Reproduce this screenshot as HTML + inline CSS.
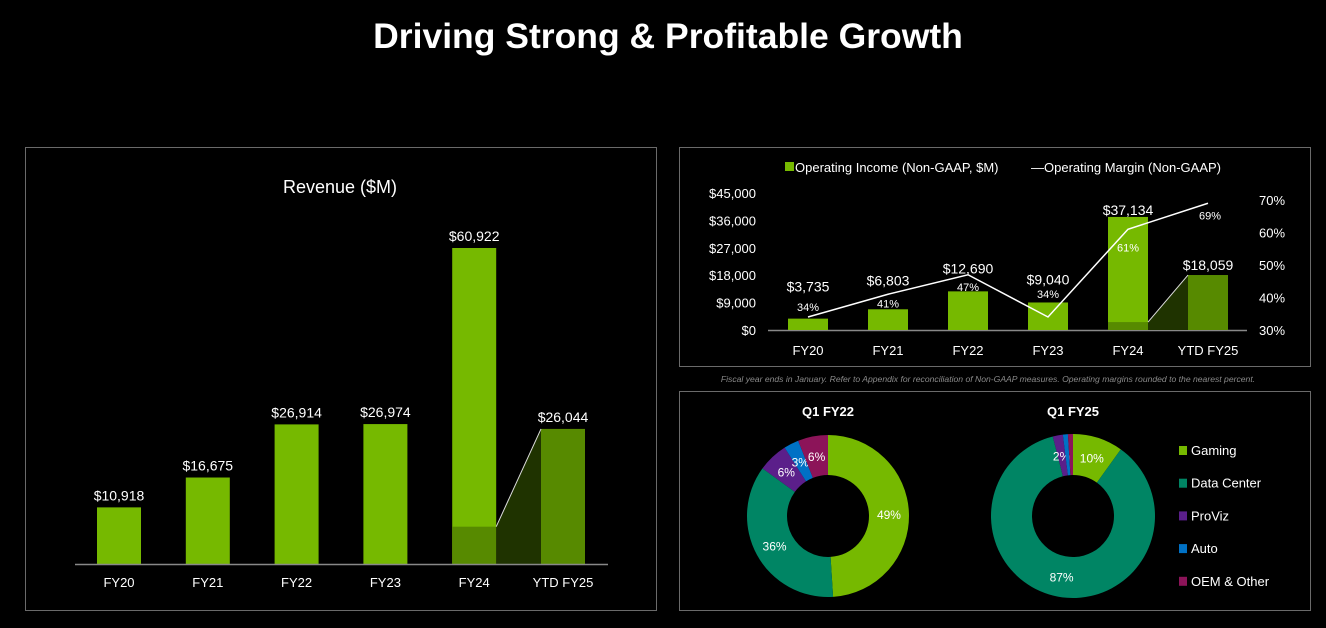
<!DOCTYPE html>
<html><head><meta charset="utf-8">
<style>
html,body{margin:0;padding:0;background:#000;width:1326px;height:628px;overflow:hidden;font-family:"Liberation Sans",sans-serif;}
svg{display:block}
</style></head>
<body>
<svg id="svg" width="1326" height="628" viewBox="0 0 1326 628">
<text x="668" y="48" text-anchor="middle" fill="#fff" font-size="35.5" font-weight="bold">Driving Strong &amp; Profitable Growth</text>
<rect x="25.5" y="147.5" width="631" height="463" fill="none" stroke="#6a6a6a"/>
<rect x="679.5" y="147.5" width="631" height="219" fill="none" stroke="#6a6a6a"/>
<rect x="679.5" y="391.5" width="631" height="219" fill="none" stroke="#6a6a6a"/>
<text x="340" y="193" text-anchor="middle" fill="#fff" font-size="18">Revenue ($M)</text>
<text x="988" y="382" text-anchor="middle" fill="#8a8a8a" font-size="8.6" font-style="italic">Fiscal year ends in January. Refer to Appendix for reconciliation of Non-GAAP measures. Operating margins rounded to the nearest percent.</text>
<g id="rev"></g><g id="op"></g><g id="pies"></g>
</svg>
<script>
const revCats=["FY20","FY21","FY22","FY23","FY24","YTD FY25"];
const revVals=[10918,16675,26914,26974,60922,26044];
const revQ1FY24=7192;
const opCats=["FY20","FY21","FY22","FY23","FY24","YTD FY25"];
const opVals=[3735,6803,12690,9040,37134,18059];
const opMargins=[34,41,47,34,61,69];
const opQ1FY24=2600;
const opTicks=[0,9000,18000,27000,36000,45000];
const marginTicks=[30,40,50,60,70];
const segNames=["Gaming","Data Center","ProViz","Auto","OEM & Other"];
const segColors=["#76b900","#008564","#5b1f8a","#0071c5","#8c1459"];
const q1fy22=[49,36,6,3,6];
const q1fy25=[10,87,2,1,1];
const q1fy22Labels=["49%","36%","6%","3%","6%"];
const q1fy25Labels=["10%","87%","2%","",""];
// label offsets (px) relative to bar top / margin point
const opValueDy=[-32,-29,-23,-23,-7,-10];
const opMarginDy=[-10,9,12,-23,18,12];

const NS="http://www.w3.org/2000/svg";
function mk(parent,tag,attrs,text){const e=document.createElementNS(NS,tag);for(const k in attrs)e.setAttribute(k,attrs[k]);if(text!==undefined)e.textContent=text;parent.appendChild(e);return e;}
const fmt=v=>"$"+v.toLocaleString("en-US");

// Revenue chart
const rev=document.getElementById("rev");
const rBase=564, rScale=316/60922, rx=i=>119+i*88.8, rW=44;
const ry=v=>rBase-v*rScale;
revVals.forEach((v,i)=>{
  const last=i===revVals.length-1;
  const b=mk(rev,"rect",{x:rx(i)-rW/2,y:ry(v),width:rW,height:rBase-ry(v),fill:last?"#578a00":"#76b900"});
  
  
  const t=mk(rev,"text",{x:rx(i),y:ry(v)-7,"text-anchor":"middle",fill:"#fff","font-size":"14"},fmt(v));
  
  
  const c=mk(rev,"text",{x:rx(i),y:rBase+23,"text-anchor":"middle",fill:"#fff","font-size":"13"},revCats[i]);
  
  
});
{
  const i=4,j=5;
  const q=mk(rev,"rect",{x:rx(i)-rW/2,y:ry(revQ1FY24),width:rW,height:rBase-ry(revQ1FY24),fill:"#578a00"});
  
  
  const p=mk(rev,"polygon",{points:`${rx(i)+rW/2},${ry(revQ1FY24)} ${rx(j)-rW/2},${ry(revVals[j])} ${rx(j)-rW/2},${rBase} ${rx(i)+rW/2},${rBase}`,fill:"#1f3300"});
  
  
  const l=mk(rev,"line",{x1:rx(i)+rW/2,y1:ry(revQ1FY24),x2:rx(j)-rW/2,y2:ry(revVals[j]),stroke:"#ddd","stroke-width":"1"});
  
  
}
const rax=mk(rev,"line",{x1:75,y1:rBase+0.5,x2:608,y2:rBase+0.5,stroke:"#888","stroke-width":"1.5"});



// Operating chart
const op=document.getElementById("op");
const oBase=330, oy=v=>oBase-v*137/45000, my=m=>oBase-(m-30)*3.25, ox=i=>808+i*80, oW=40;
opTicks.forEach(t=>{const e=mk(op,"text",{x:756,y:oy(t)+5,"text-anchor":"end",fill:"#fff","font-size":"13"},fmt(t));
  
  });
marginTicks.forEach(t=>{const e=mk(op,"text",{x:1259,y:my(t)+5,fill:"#fff","font-size":"13"},t+"%");
  
  });
const oax=mk(op,"line",{x1:768,y1:oBase+0.5,x2:1247,y2:oBase+0.5,stroke:"#888","stroke-width":"1.5"});


{
  const i=4,j=5;
  const p=mk(op,"polygon",{points:`${ox(i)+oW/2},${oy(opQ1FY24)} ${ox(j)-oW/2},${oy(opVals[j])} ${ox(j)-oW/2},${oBase} ${ox(i)+oW/2},${oBase}`,fill:"#1f3300"});
  
  
}
opVals.forEach((v,i)=>{
  const last=i===opVals.length-1;
  const b=mk(op,"rect",{x:ox(i)-oW/2,y:oy(v),width:oW,height:oBase-oy(v),fill:last?"#578a00":"#76b900"});
  
  
  const c=mk(op,"text",{x:ox(i),y:oBase+25,"text-anchor":"middle",fill:"#fff","font-size":"13"},opCats[i]);
  
  
});
{
  const q=mk(op,"rect",{x:ox(4)-oW/2,y:oy(opQ1FY24),width:oW,height:oBase-oy(opQ1FY24),fill:"#578a00"});
  
  
  const l=mk(op,"line",{x1:ox(4)+oW/2,y1:oy(opQ1FY24),x2:ox(5)-oW/2,y2:oy(opVals[5]),stroke:"#ddd","stroke-width":"1"});
  
  
}
const pts=opMargins.map((m,i)=>`${ox(i)},${my(m)}`).join(" ");
const ml=mk(op,"polyline",{points:pts,fill:"none",stroke:"#fff","stroke-width":"1.5"});


opMargins.forEach((m,i)=>{
  const t=mk(op,"text",{x:ox(i)+(i===5?2:0),y:my(m)+opMarginDy[i]+4,"text-anchor":"middle",fill:"#fff","font-size":"11"},m+"%");
  
  
});
opVals.forEach((v,i)=>{
  const t=mk(op,"text",{x:ox(i),y:oy(v)+opValueDy[i]+5,"text-anchor":"middle",fill:"#fff","font-size":"14"},fmt(v));
  
  
});
// legend
{
  const s=mk(op,"rect",{x:785,y:162,width:9,height:9,fill:"#76b900"});
  
  
  const t=mk(op,"text",{x:795,y:172,fill:"#fff","font-size":"13"},"Operating Income (Non-GAAP, $M)");
  
  
  const t2=mk(op,"text",{x:1031,y:172,fill:"#fff","font-size":"13"},"—Operating Margin (Non-GAAP)");
  
  
}

// Donuts
const pies=document.getElementById("pies");
function donut(cx,cy,R,r,vals,labels,title,name){
  const total=vals.reduce((a,b)=>a+b,0);
  let a0=0;
  const tt=mk(pies,"text",{x:cx,y:416,"text-anchor":"middle",fill:"#fff","font-size":"13","font-weight":"bold"},title);
  
  
  vals.forEach((v,i)=>{
    const a1=a0+v/total*2*Math.PI;
    const P=(rad,a)=>[cx+rad*Math.sin(a),cy-rad*Math.cos(a)];
    const big=(a1-a0)>Math.PI?1:0;
    const [x0,y0]=P(R,a0),[x1,y1]=P(R,a1),[x2,y2]=P(r,a1),[x3,y3]=P(r,a0);
    const path=mk(pies,"path",{d:`M${x0},${y0} A${R},${R} 0 ${big} 1 ${x1},${y1} L${x2},${y2} A${r},${r} 0 ${big} 0 ${x3},${y3} Z`,fill:segColors[i]});
    
    
    if(labels[i]){
      const am=(a0+a1)/2;const [lx,ly]=P((R+r)/2,am);
      const t=mk(pies,"text",{x:lx,y:ly+5,"text-anchor":"middle",fill:"#fff","font-size":"12"},labels[i]);
      
      
    }
    a0=a1;
  });
}
donut(828,516,81,41,q1fy22,q1fy22Labels,"Q1 FY22","q1-fy22");
donut(1073,516,82,41,q1fy25,q1fy25Labels,"Q1 FY25","q1-fy25");
segNames.forEach((n,i)=>{
  const y=450+i*32.7;
  const s=mk(pies,"rect",{x:1179,y:y-4,width:8,height:9,fill:segColors[i]});
  
  
  const t=mk(pies,"text",{x:1191,y:y+5,fill:"#fff","font-size":"13"},n);
  
  
});
</script>
</body></html>
